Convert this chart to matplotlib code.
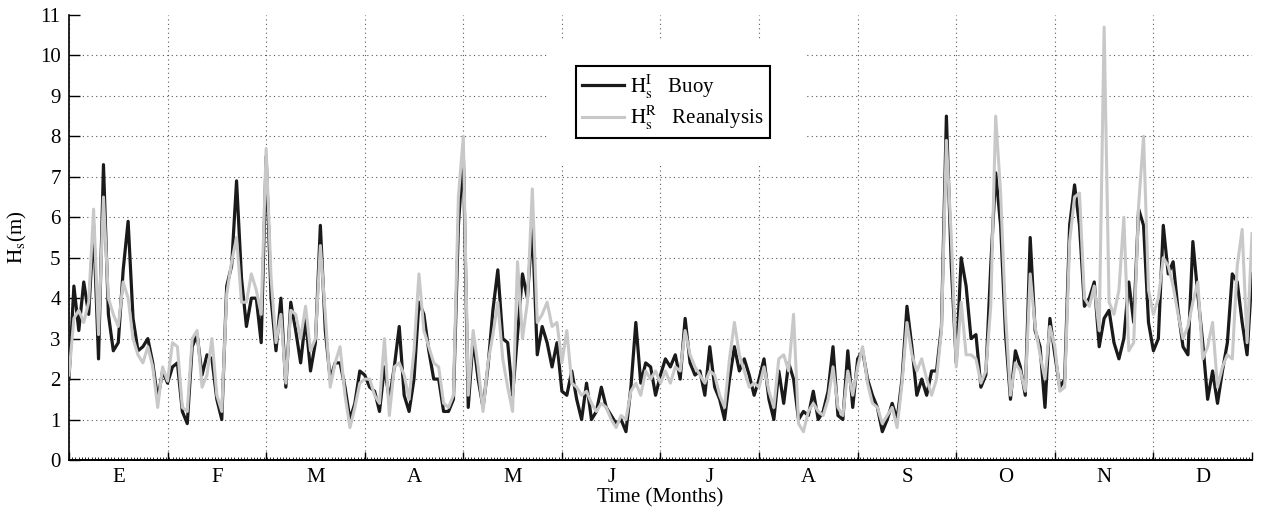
import numpy as np
import matplotlib
matplotlib.use("Agg")
import matplotlib.pyplot as plt
from matplotlib.patches import Rectangle

plt.rcParams['font.family'] = ['Liberation Serif', 'DejaVu Serif']
plt.rcParams['mathtext.fontset'] = 'stix'

#month labels (Spanish initials)
months = ["E", "F", "M", "A", "M", "J", "J", "A", "S", "O", "N", "D"]

#sampling step in months (values read every 1/20 month)
step = 0.05

#buoy Hs (m), 20 values per month + last point
hs_buoy = [
    # E
    2.0, 4.3, 3.2, 4.4, 3.6, 5.8, 2.5, 7.3, 3.6, 2.7, 2.9, 4.7, 5.9, 3.5, 2.7, 2.8, 3.0, 2.4, 1.5, 2.2,
    # F
    1.9, 2.3, 2.4, 1.2, 0.9, 2.8, 3.1, 2.1, 2.6, 2.5, 1.5, 1.0, 4.3, 4.8, 6.9, 4.5, 3.3, 4.0, 4.0, 2.9,
    # M
    7.5, 4.0, 2.7, 4.0, 1.8, 3.9, 3.2, 2.4, 3.5, 2.2, 2.9, 5.8, 3.2, 2.0, 2.4, 2.4, 1.8, 1.0, 1.4, 2.2,
    # A
    2.1, 1.8, 1.7, 1.2, 2.3, 1.5, 2.3, 3.3, 1.6, 1.2, 2.0, 3.9, 3.6, 2.7, 2.0, 2.0, 1.2, 1.2, 1.5, 5.8,
    # M
    7.6, 1.3, 3.0, 2.0, 1.3, 2.3, 3.7, 4.7, 3.0, 2.9, 1.6, 3.1, 4.6, 4.0, 5.8, 2.6, 3.3, 2.9, 2.3, 2.9,
    # J
    1.7, 1.6, 2.2, 1.5, 1.0, 1.9, 1.0, 1.2, 1.8, 1.3, 1.1, 0.9, 1.0, 0.7, 1.8, 3.4, 1.9, 2.4, 2.3, 1.6,
    # J
    2.1, 2.5, 2.3, 2.6, 2.0, 3.5, 2.4, 2.1, 2.2, 1.6, 2.8, 1.8, 1.5, 1.0, 2.0, 2.8, 2.2, 2.5, 2.1, 1.6,
    # A
    2.0, 2.5, 1.5, 1.0, 2.2, 1.4, 2.4, 2.0, 1.0, 1.2, 1.1, 1.7, 1.0, 1.2, 1.7, 2.8, 1.1, 1.0, 2.7, 1.3,
    # S
    2.5, 2.7, 2.0, 1.6, 1.3, 0.7, 1.0, 1.4, 1.0, 2.0, 3.8, 2.8, 1.6, 2.0, 1.6, 2.2, 2.2, 3.3, 8.5, 4.8,
    # O
    2.4, 5.0, 4.3, 3.0, 3.1, 1.8, 2.1, 4.8, 7.1, 5.8, 3.1, 1.5, 2.7, 2.3, 1.6, 5.5, 3.2, 2.8, 1.3, 3.5,
    # N
    2.6, 1.8, 2.0, 5.8, 6.8, 5.8, 3.8, 4.0, 4.4, 2.8, 3.5, 3.7, 2.9, 2.5, 3.0, 4.4, 3.4, 6.2, 5.8, 3.4,
    # D
    2.7, 3.0, 5.8, 4.6, 4.9, 3.7, 2.8, 2.6, 5.4, 4.1, 2.9, 1.5, 2.2, 1.4, 2.2, 2.9, 4.6, 4.4, 3.4, 2.6,
    4.6,
]

#reanalysis Hs (m), same sampling
hs_rean = [
    # E
    2.1, 3.5, 3.7, 3.4, 3.9, 6.2, 3.1, 6.5, 4.0, 3.6, 3.3, 4.4, 4.0, 3.0, 2.6, 2.4, 2.8, 2.3, 1.3, 2.3,
    # F
    1.95, 2.9, 2.8, 1.3, 1.2, 3.0, 3.2, 1.8, 2.1, 3.0, 1.6, 1.2, 4.1, 4.9, 5.5, 3.9, 3.9, 4.6, 4.2, 3.6,
    # M
    7.7, 4.5, 2.9, 3.6, 1.9, 3.7, 3.6, 3.0, 3.8, 2.7, 3.0, 5.3, 3.6, 1.8, 2.4, 2.8, 1.6, 0.8, 1.3, 1.9,
    # A
    2.0, 2.0, 1.6, 1.4, 3.0, 1.1, 2.3, 2.4, 2.1, 1.5, 2.7, 4.6, 3.2, 2.8, 2.4, 2.3, 1.4, 1.3, 1.6, 6.5,
    # M
    8.0, 1.6, 3.2, 2.3, 1.2, 2.4, 3.1, 3.9, 2.5, 1.8, 1.2, 4.9, 3.0, 3.9, 6.7, 3.4, 3.6, 3.9, 3.3, 3.4,
    # J
    2.4, 3.2, 1.9, 1.8, 1.6, 1.7, 1.4, 1.2, 1.4, 1.3, 1.0, 0.8, 1.1, 1.0, 1.7, 1.9, 1.6, 2.2, 2.0, 2.2,
    # J
    1.9, 2.2, 1.9, 2.3, 2.2, 3.2, 2.6, 2.3, 2.1, 1.9, 2.2, 2.1, 1.6, 1.3, 2.5, 3.4, 2.6, 2.2, 1.8, 1.9,
    # A
    1.8, 2.3, 1.7, 1.3, 2.5, 2.6, 2.2, 3.6, 0.9, 0.7, 1.2, 1.4, 1.2, 1.1, 1.5, 2.3, 1.3, 1.1, 2.2, 1.6,
    # S
    2.3, 2.8, 1.9, 1.4, 1.3, 0.9, 1.1, 1.3, 0.8, 1.9, 3.4, 2.6, 2.2, 2.5, 2.0, 1.6, 2.0, 3.2, 7.9, 5.5,
    # O
    2.3, 3.9, 2.6, 2.6, 2.5, 1.9, 2.2, 3.8, 8.5, 6.6, 3.6, 1.6, 2.4, 2.2, 1.7, 4.6, 3.3, 2.6, 2.0, 3.3,
    # N
    2.8, 1.7, 1.8, 5.4, 6.5, 6.6, 4.0, 3.8, 4.3, 3.2, 10.7, 3.9, 3.6, 4.2, 6.0, 2.7, 2.9, 6.3, 8.0, 4.2,
    # D
    3.6, 4.0, 5.0, 4.8, 4.3, 3.6, 3.0, 3.3, 3.9, 4.4, 2.5, 2.8, 3.4, 1.8, 2.3, 2.6, 2.5, 4.8, 5.7, 2.9,
    5.6,
]

t = np.arange(len(hs_buoy)) * step

fig = plt.figure(figsize=(12.63, 5.08), dpi=100)
ax = fig.add_axes([0.0546, 0.0945, 0.9367, 0.876])

ax.plot(t, hs_buoy, color="#1a1a1a", lw=2.3, label=r"$\mathrm{H_s^I}$   Buoy", zorder=3)
ax.plot(t, hs_rean, color="#c8c8c8", lw=2.2, label=r"$\mathrm{H_s^R}$   Reanalysis", zorder=4)

ax.set_xlim(0, 12)
ax.set_ylim(0, 11)

#month boundaries as major ticks, labels centered on minor ticks
ax.set_xticks(np.arange(0, 13))
ax.set_xticklabels([])
ax.set_xticks(np.arange(0.5, 12), minor=True)
ax.set_xticklabels(months, minor=True)
ax.tick_params(axis="x", which="major", direction="in", length=6, width=1)
ax.tick_params(axis="x", which="minor", length=0, labelsize=15, pad=6)
ax.set_yticks(np.arange(0, 12))
ax.tick_params(axis="y", direction="in", length=8, width=1, labelsize=15, pad=6)

#daily hatch ticks on the bottom axis
sec = ax.secondary_xaxis("bottom")
sec.set_xticks(np.arange(0, 12, 1 / 30.4))
sec.tick_params(direction="in", length=2.5, width=0.6, labelbottom=False)
sec.spines["bottom"].set_linewidth(1.2)

ax.grid(True, which="major", linestyle=(0, (1, 3)), color="0.35", lw=0.8)
ax.yaxis.get_gridlines()[-1].set_visible(False)
ax.xaxis.get_gridlines()[-1].set_visible(False)

ax.spines["top"].set_visible(False)
ax.spines["right"].set_visible(False)
ax.spines["left"].set_linewidth(1.2)
ax.spines["bottom"].set_linewidth(1.2)

#blank patch behind legend (hides the grid there)
ax.add_patch(Rectangle((4.86, 7.34), 2.63, 3.04, facecolor="white", edgecolor="none", zorder=2))

leg = ax.legend(loc="upper left", bbox_to_anchor=(0.448, 0.890), bbox_transform=fig.transFigure,
                fancybox=False, edgecolor="black", fontsize=15, handlelength=2.0,
                borderpad=0.3, labelspacing=0.15, handletextpad=0.3, framealpha=1)
leg.get_frame().set_linewidth(1.5)
leg.set_zorder(5)

ax.set_xlabel("Time (Months)", fontsize=15, labelpad=1)
ax.set_ylabel(r"$\mathrm{H_s}$(m)", fontsize=15, labelpad=8)

fig.savefig("out.png", dpi=100)
